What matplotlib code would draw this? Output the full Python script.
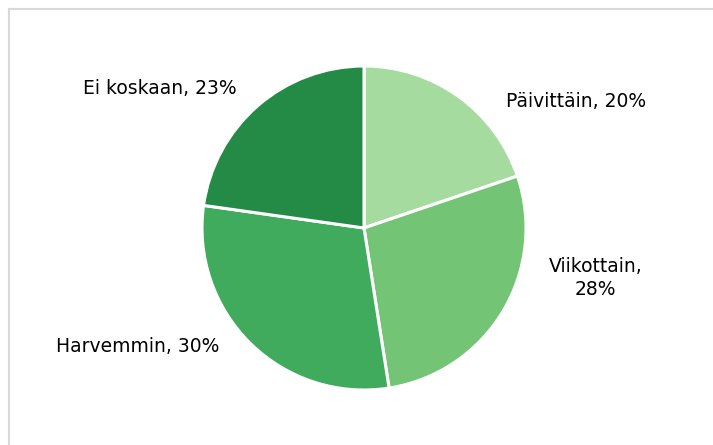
import matplotlib
matplotlib.use("Agg")
import matplotlib.pyplot as plt
from matplotlib.lines import Line2D

categories = ["Päivittäin", "Viikottain", "Harvemmin", "Ei koskaan"]
values = [20, 28, 30, 23]
label_texts = ["Päivittäin, 20%", "Viikottain,\n28%", "Harvemmin, 30%", "Ei koskaan, 23%"]
colors = ["#a6dba0", "#74c476", "#41ab5d", "#238b45"]
label_pos = [(1.31, 0.78), (1.43, -0.31), (-1.40, -0.73), (-1.26, 0.86)]

W, H = 713, 445
fig = plt.figure(figsize=(W / 100, H / 100), dpi=100)
fig.patch.set_facecolor("white")

cx, cy, r = 364, 228, 162
ax = fig.add_axes([(cx - r) / W, (H - cy - r) / H, 2 * r / W, 2 * r / H])
ax.pie(values, colors=colors, startangle=90, counterclock=False, radius=1,
       wedgeprops=dict(edgecolor="white", linewidth=2.2))
ax.set_xlim(-1, 1)
ax.set_ylim(-1, 1)
ax.set_aspect("equal")
ax.axis("off")

for txt, (x, y) in zip(label_texts, label_pos):
    ax.text(x, y, txt, ha="center", va="center", fontsize=13.5,
            family="DejaVu Sans", color="#000000", clip_on=False,
            linespacing=1.25)

bx, by = 8.5 / W, 1 - 8.5 / H
fig.add_artist(Line2D([bx, 1.05], [by, by], transform=fig.transFigure,
                      color="#d9d9d9", linewidth=1.5))
fig.add_artist(Line2D([bx, bx], [by, -0.05], transform=fig.transFigure,
                      color="#d9d9d9", linewidth=1.5))

fig.savefig("out.png", dpi=100, facecolor="white")
